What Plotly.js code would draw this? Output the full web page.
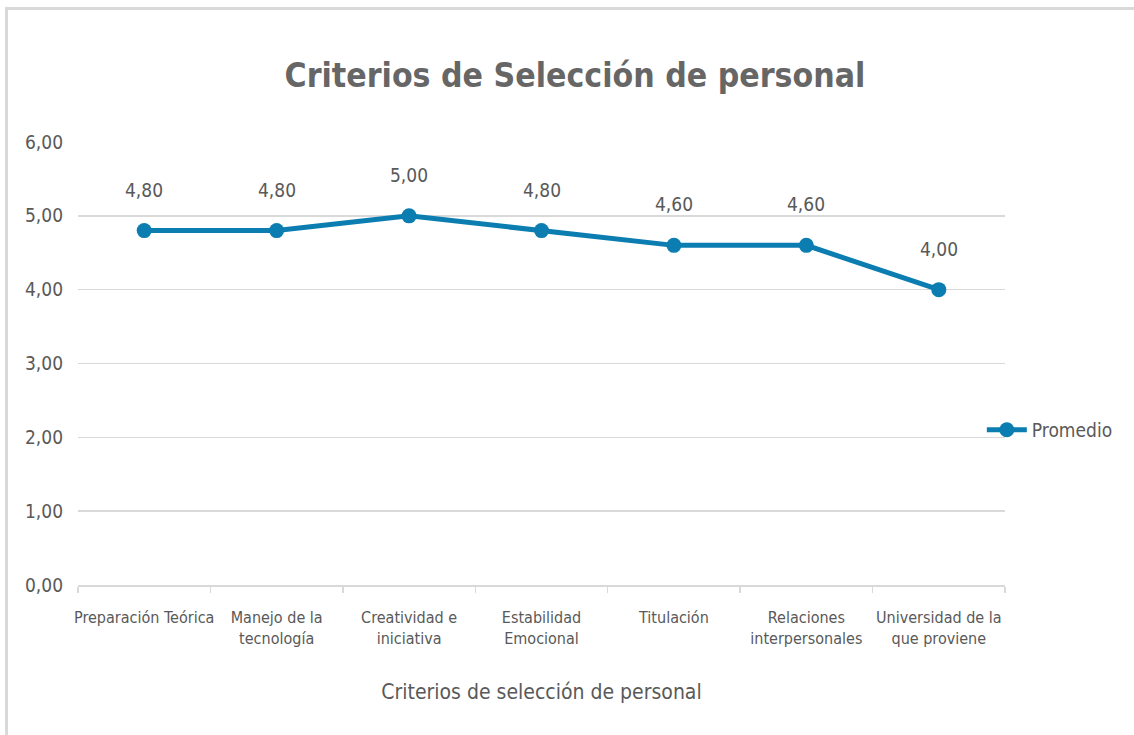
<!DOCTYPE html>
<html>
<head>
<meta charset="utf-8">
<script src="https://cdn.plot.ly/plotly-3.0.1.min.js"></script>
<style>
  html, body { margin: 0; padding: 0; background: #fff; }
  #chart { width: 1134px; height: 735px; position: relative; }
  #frame { position: absolute; left: 5px; top: 7px; width: 1129px; height: 728px;
           border-top: 3px solid #d9d9d9; border-left: 3px solid #d9d9d9; pointer-events: none; }
</style>
</head>
<body>
<div id="chart"></div>
<div id="frame"></div>
<script>
const categories = [
  "Preparación Teórica",
  "Manejo de la<br>tecnología",
  "Creatividad e<br>iniciativa",
  "Estabilidad<br>Emocional",
  "Titulación",
  "Relaciones<br>interpersonales",
  "Universidad de la<br>que proviene"
];
const promedio = [4.80, 4.80, 5.00, 4.80, 4.60, 4.60, 4.00];
const seriesName = "Promedio";
const yTicks = [0, 1, 2, 3, 4, 5, 6];
const yTickLabels = ["0,00", "1,00", "2,00", "3,00", "4,00", "5,00", "6,00"];

const FONT = '"DejaVu Sans Condensed", "Liberation Sans Narrow", sans-serif';
const GRAY = "#595959";
const BLUE = "#0b7db0";

const trace = {
  x: categories,
  y: promedio,
  type: "scatter",
  mode: "lines+markers",
  name: seriesName,
  line: { color: BLUE, width: 5 },
  marker: { color: BLUE, size: 15 },
  cliponaxis: false
};

const labels = categories.map((c, i) => ({
  x: c, y: promedio[i], xref: "x", yref: "y",
  text: promedio[i].toFixed(2).replace(".", ","),
  showarrow: false, yshift: 41,
  font: { family: FONT, size: 19, color: GRAY }
}));

const layout = {
  width: 1134, height: 735,
  margin: { l: 78, r: 129, t: 142, b: 150, autoexpand: false },
  paper_bgcolor: "#ffffff",
  plot_bgcolor: "#ffffff",
  title: {
    text: "<b>Criterios de Selección de personal</b>",
    font: { family: FONT, size: 33.5, color: "#666666" },
    x: 0.507, xanchor: "center", y: 0.898, yanchor: "middle"
  },
  separators: ",.",
  xaxis: {
    type: "category",
    range: [-0.5, 6.5],
    showgrid: false,
    showline: true, linecolor: "#d9d9d9", linewidth: 1.5,
    ticks: "outside", tickson: "boundaries", ticklen: 6, tickcolor: "#d9d9d9", tickwidth: 1.5,
    tickfont: { family: FONT, size: 16, color: GRAY },
    ticklabelstandoff: 17,
    tickangle: 0,
    title: {
      text: "Criterios de selección de personal",
      font: { family: FONT, size: 21, color: GRAY },
      standoff: 38
    },
    zeroline: false,
    fixedrange: true
  },
  yaxis: {
    range: [0, 6],
    tickvals: yTicks, ticktext: yTickLabels,
    showgrid: true, gridcolor: "#d9d9d9", gridwidth: 1.5,
    showline: false, zeroline: false,
    ticks: "", ticklabelstandoff: 14,
    tickfont: { family: FONT, size: 19, color: GRAY },
    fixedrange: true
  },
  showlegend: true,
  legend: {
    x: 0.975, xanchor: "left", y: 0.35, yanchor: "middle",
    font: { family: FONT, size: 19, color: GRAY },
    bgcolor: "rgba(0,0,0,0)",
    itemwidth: 40
  },
  annotations: labels
};

Plotly.newPlot("chart", [trace], layout, { displayModeBar: false, staticPlot: true });
</script>
</body>
</html>
